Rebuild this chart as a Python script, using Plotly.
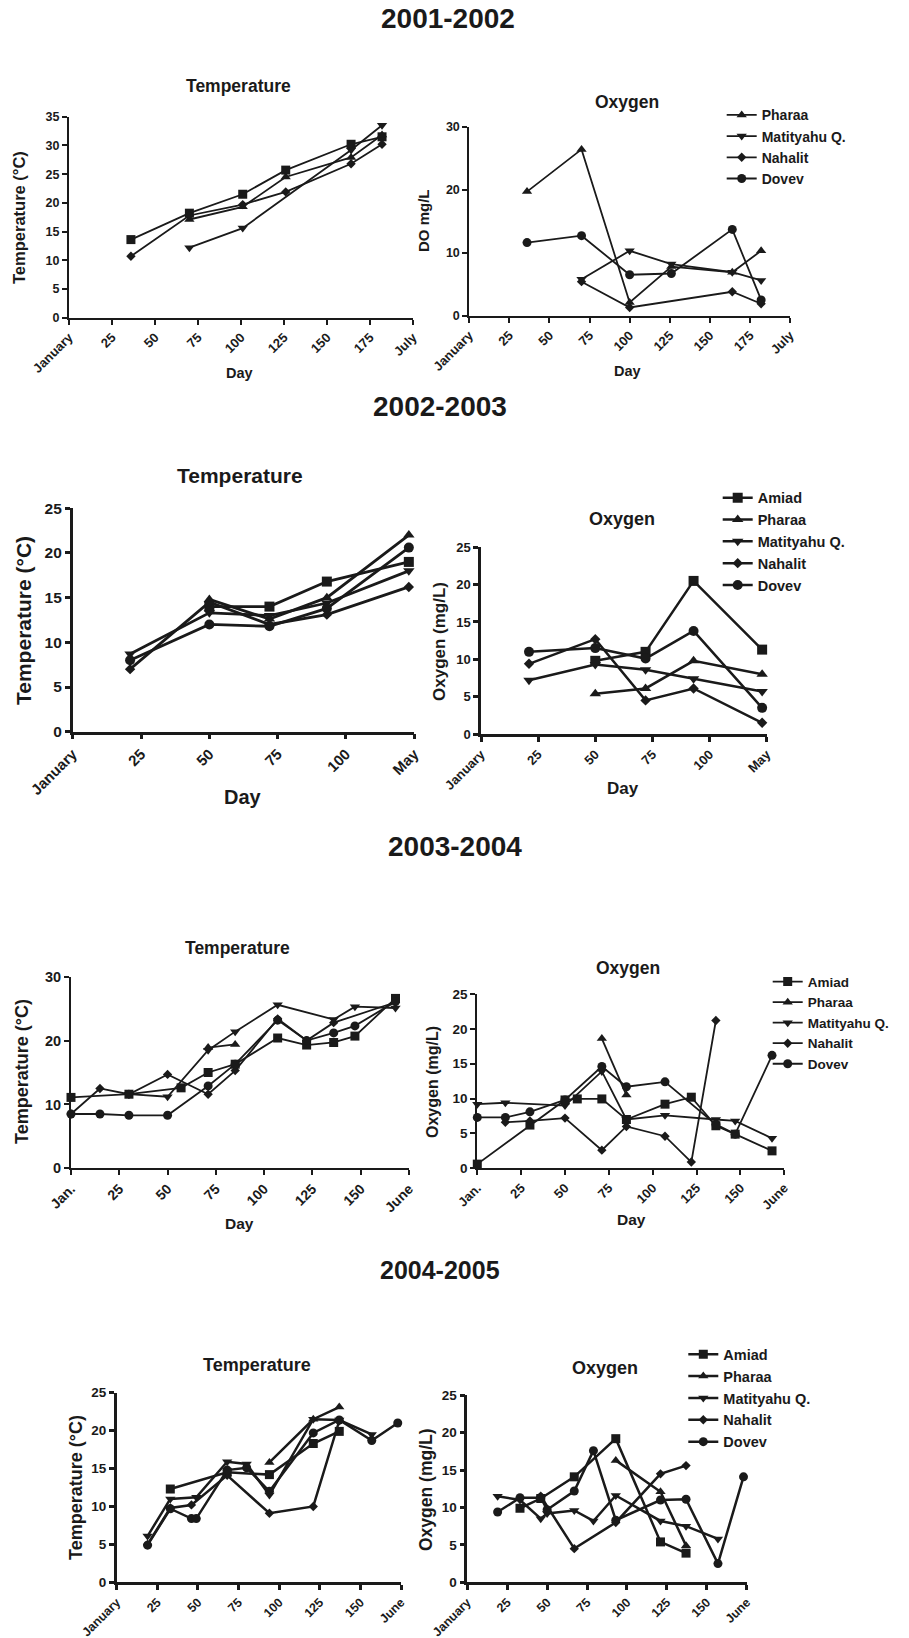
import plotly.graph_objects as go

W, H = 909, 1638

# ---------------- DATA ----------------
# 2001-2002 temperature
p1_sq_x = [36, 70, 101, 126, 164, 182]
p1_sq_y = [13.6, 18.2, 21.5, 25.7, 30.2, 31.5]
p1_tri_x = [70, 101, 126, 164, 182]
p1_tri_y = [17.1, 19.3, 24.5, 27.9, 31.8]
p1_dn_x = [70, 101, 164, 182]
p1_dn_y = [12.2, 15.6, 29.2, 33.5]
p1_dia_x = [36, 70, 101, 126, 164, 182]
p1_dia_y = [10.7, 17.8, 19.7, 21.9, 26.8, 30.2]

# 2001-2002 oxygen
p2_pharaa_x = [36, 70, 100, 126, 164, 182]
p2_pharaa_y = [19.7, 26.4, 2.1, 7.8, 6.9, 10.3]
p2_matit_x = [70, 100, 126, 164, 182]
p2_matit_y = [5.8, 10.3, 8.2, 6.9, 5.6]
p2_nahal_x = [70, 100, 164, 182]
p2_nahal_y = [5.4, 1.3, 3.8, 1.9]
p2_dovev_x = [36, 70, 100, 126, 164, 182]
p2_dovev_y = [11.6, 12.7, 6.5, 6.7, 13.7, 2.5]

# 2002-2003 temperature
p3_amiad_x = [50, 72, 93, 123]
p3_amiad_y = [14.0, 14.0, 16.8, 19.0]
p3_pharaa_x = [50, 72, 93, 123]
p3_pharaa_y = [14.8, 12.6, 15.0, 22.0]
p3_matit_x = [21, 50, 72, 93, 123]
p3_matit_y = [8.7, 13.3, 13.0, 14.4, 18.0]
p3_nahal_x = [21, 50, 72, 93, 123]
p3_nahal_y = [7.0, 14.5, 12.0, 13.1, 16.2]
p3_dovev_x = [21, 50, 72, 93, 123]
p3_dovev_y = [8.0, 12.0, 11.8, 13.8, 20.6]

# 2002-2003 oxygen
p4_amiad_x = [50, 72, 93, 123]
p4_amiad_y = [9.8, 11.0, 20.5, 11.3]
p4_pharaa_x = [50, 72, 93, 123]
p4_pharaa_y = [5.4, 6.1, 9.8, 8.0]
p4_matit_x = [21, 50, 72, 93, 123]
p4_matit_y = [7.2, 9.3, 8.6, 7.4, 5.7]
p4_nahal_x = [21, 50, 72, 93, 123]
p4_nahal_y = [9.4, 12.7, 4.5, 6.1, 1.5]
p4_dovev_x = [21, 50, 72, 93, 123]
p4_dovev_y = [11.0, 11.5, 10.1, 13.8, 3.5]

# 2003-2004 temperature
p5_amiad_x = [0, 30, 57, 71, 85, 107, 122, 136, 147, 168]
p5_amiad_y = [11.1, 11.6, 12.6, 15.0, 16.3, 20.4, 19.3, 19.7, 20.7, 26.6]
p5_pharaa_x = [71, 85]
p5_pharaa_y = [18.9, 19.4]
p5_matit_x = [30, 50, 71, 85, 107, 136, 147, 168]
p5_matit_y = [11.6, 11.2, 18.5, 21.4, 25.6, 23.3, 25.3, 25.1]
p5_nahal_x = [0, 15, 30, 50, 71, 85, 107, 122, 136, 168]
p5_nahal_y = [8.5, 12.5, 11.6, 14.7, 11.6, 15.3, 23.4, 20.0, 22.8, 26.0]
p5_dovev_x = [0, 15, 30, 50, 71, 85, 107, 122, 136, 147, 168]
p5_dovev_y = [8.5, 8.5, 8.3, 8.3, 12.9, 16.3, 23.2, 20.0, 21.2, 22.3, 26.1]

# 2003-2004 oxygen
p6_amiad_x = [0, 30, 50, 57, 71, 85, 107, 122, 136, 147, 168]
p6_amiad_y = [0.6, 6.2, 9.8, 9.95, 9.95, 7.0, 9.2, 10.2, 6.1, 4.9, 2.5]
p6_pharaa_x = [71, 85]
p6_pharaa_y = [18.6, 10.5]
p6_matit_x = [0, 16, 50, 71, 85, 107, 136, 147, 168]
p6_matit_y = [9.2, 9.4, 9.0, 13.9, 7.0, 7.6, 7.0, 6.8, 4.3]
p6_nahal_x = [16, 30, 50, 71, 85, 107, 122, 136]
p6_nahal_y = [6.6, 6.8, 7.2, 2.6, 6.0, 4.6, 0.9, 21.2]
p6_dovev_x = [0, 16, 30, 50, 71, 85, 107, 136, 147, 168]
p6_dovev_y = [7.3, 7.3, 8.1, 9.8, 14.6, 11.7, 12.4, 6.3, 4.9, 16.2]

# 2004-2005 temperature
p7_amiad_x = [33, 68, 94, 121, 137]
p7_amiad_y = [12.3, 14.5, 14.2, 18.3, 19.9]
p7_pharaa_x = [94, 121, 137]
p7_pharaa_y = [15.8, 21.5, 23.1]
p7_matit_x = [19, 33, 49, 68, 80, 94, 121, 137, 157]
p7_matit_y = [6.1, 11.0, 11.2, 15.9, 15.6, 11.5, 21.5, 21.4, 19.5]
p7_nahal_x = [19, 33, 46, 68, 94, 121, 137]
p7_nahal_y = [5.0, 9.8, 10.2, 14.1, 9.1, 10.0, 21.3]
p7_dovev_x = [19, 33, 46, 49, 68, 80, 94, 121, 137, 157, 173]
p7_dovev_y = [4.9, 9.7, 8.4, 8.4, 14.8, 15.1, 12.0, 19.7, 21.4, 18.7, 21.0]

# 2004-2005 oxygen
p8_amiad_x = [33, 46, 67, 93, 121, 137]
p8_amiad_y = [9.9, 11.2, 14.1, 19.2, 5.4, 3.9]
p8_pharaa_x = [93, 121, 137]
p8_pharaa_y = [16.3, 12.1, 4.9]
p8_matit_x = [19, 33, 46, 50, 67, 79, 93, 121, 137, 157]
p8_matit_y = [11.5, 11.0, 8.5, 9.2, 9.6, 8.2, 11.6, 8.2, 7.5, 5.8]
p8_nahal_x = [46, 67, 93, 121, 137]
p8_nahal_y = [11.5, 4.5, 8.0, 14.5, 15.6]
p8_dovev_x = [19, 33, 46, 50, 67, 79, 93, 121, 137, 157, 173]
p8_dovev_y = [9.4, 11.3, 11.3, 9.7, 12.2, 17.6, 8.3, 11.0, 11.1, 2.5, 14.1]

# tick labels
ticks_200 = [0, 25, 50, 75, 100, 125, 150, 175, 200]
labels_july = ["January", "25", "50", "75", "100", "125", "150", "175", "July"]
ticks_125 = [0, 25, 50, 75, 100, 125]
labels_may = ["January", "25", "50", "75", "100", "May"]
ticks_175 = [0, 25, 50, 75, 100, 125, 150, 175]
labels_june_short = ["Jan.", "25", "50", "75", "100", "125", "150", "June"]
labels_june = ["January", "25", "50", "75", "100", "125", "150", "June"]

headers = ["2001-2002", "2002-2003", "2003-2004", "2004-2005"]

# ---------------- LAYOUT HELPERS ----------------
FONT = "Arial, Liberation Sans, Helvetica, sans-serif"
BLACK = "#1a1a1a"

fig = go.Figure()

def px_x(v):
    return v / W

def px_y(v):
    return 1 - v / H

panels = [
    dict(box=(69, 413, 116.7, 317.7), xr=200, yr=35, yt=list(range(0, 36, 5)), xt=ticks_200, xl=labels_july, tf=13, ytf=12.5, lw=1.8, ms=9, al=2),
    dict(box=(469.3, 790, 126.7, 315.7), xr=200, yr=30, yt=[0, 10, 20, 30], xt=ticks_200, xl=labels_july, tf=13, ytf=12.5, lw=1.8, ms=9, al=2),
    dict(box=(72.7, 414.3, 508.3, 731.7), xr=125, yr=25, yt=list(range(0, 26, 5)), xt=ticks_125, xl=labels_may, tf=15, ytf=15.5, lw=2.8, ms=10, al=2.5),
    dict(box=(481, 766.7, 547.3, 734), xr=125, yr=25, yt=list(range(0, 26, 5)), xt=ticks_125, xl=labels_may, tf=13, ytf=13, lw=2.5, ms=10, al=2.5),
    dict(box=(71, 409, 976.7, 1168.3), xr=175, yr=30, yt=[0, 10, 20, 30], xt=ticks_175, xl=labels_june_short, tf=14, ytf=14.5, lw=1.8, ms=9, al=2),
    dict(box=(477.3, 784.3, 994, 1168.3), xr=175, yr=25, yt=list(range(0, 26, 5)), xt=ticks_175, xl=labels_june_short, tf=13, ytf=13.5, lw=1.8, ms=9, al=2),
    dict(box=(116.7, 401, 1392.7, 1582.3), xr=175, yr=25, yt=list(range(0, 26, 5)), xt=ticks_175, xl=labels_june, tf=12.5, ytf=13.5, lw=2.5, ms=9, al=2.5),
    dict(box=(467.3, 746.7, 1395.3, 1582.3), xr=175, yr=25, yt=list(range(0, 26, 5)), xt=ticks_175, xl=labels_june, tf=12.5, ytf=13.5, lw=2.5, ms=9, al=2.5),
]

layout_axes = {}
for i, p in enumerate(panels, start=1):
    x0, x1, yt, yb = p["box"]
    common = dict(showgrid=False, zeroline=False, showline=True, linecolor=BLACK,
                  linewidth=p["al"], ticks="outside", ticklen=5, tickwidth=p["al"],
                  tickcolor=BLACK, mirror=False, fixedrange=True)
    sfx = "" if i == 1 else str(i)
    layout_axes["xaxis" + sfx] = dict(common, domain=[px_x(x0), px_x(x1)], anchor="y" + sfx,
                                     range=[0, p["xr"]], tickmode="array", tickvals=p["xt"],
                                     ticktext=p["xl"], tickangle=-45,
                                     tickfont=dict(family=FONT, size=p["tf"], color=BLACK, weight="bold"))
    layout_axes["yaxis" + sfx] = dict(common, domain=[px_y(yb), px_y(yt)], anchor="x" + sfx,
                                     range=[0, p["yr"]], tickmode="array", tickvals=p["yt"],
                                     ticktext=[str(v) for v in p["yt"]],
                                     tickfont=dict(family=FONT, size=p["ytf"], color=BLACK, weight="bold"))

SYM = {"sq": "square", "tri": "triangle-up", "dn": "triangle-down", "dia": "diamond", "circ": "circle"}

def add(panel, name, xs, ys, sym, legend=None):
    p = panels[panel - 1]
    sfx = "" if panel == 1 else str(panel)
    ms = p["ms"] * (0.8 if sym == "dia" else 1.0)
    fig.add_trace(go.Scatter(
        x=xs, y=ys, name=name, mode="lines+markers",
        xaxis="x" + sfx, yaxis="y" + sfx, cliponaxis=False,
        line=dict(color=BLACK, width=p["lw"]),
        marker=dict(symbol=SYM[sym], size=ms, color=BLACK),
        showlegend=legend is not None,
        legend=legend if legend else "legend",
        legendgroup=f"{panel}-{name}",
    ))

# panel 1
add(1, "Dovev", p1_sq_x, p1_sq_y, "sq")
add(1, "Pharaa", p1_tri_x, p1_tri_y, "tri")
add(1, "Matityahu Q.", p1_dn_x, p1_dn_y, "dn")
add(1, "Nahalit", p1_dia_x, p1_dia_y, "dia")
# panel 2
add(2, "Pharaa", p2_pharaa_x, p2_pharaa_y, "tri", "legend")
add(2, "Matityahu Q.", p2_matit_x, p2_matit_y, "dn", "legend")
add(2, "Nahalit", p2_nahal_x, p2_nahal_y, "dia", "legend")
add(2, "Dovev", p2_dovev_x, p2_dovev_y, "circ", "legend")
# panel 3
add(3, "Amiad", p3_amiad_x, p3_amiad_y, "sq")
add(3, "Pharaa", p3_pharaa_x, p3_pharaa_y, "tri")
add(3, "Matityahu Q.", p3_matit_x, p3_matit_y, "dn")
add(3, "Nahalit", p3_nahal_x, p3_nahal_y, "dia")
add(3, "Dovev", p3_dovev_x, p3_dovev_y, "circ")
# panel 4
add(4, "Amiad", p4_amiad_x, p4_amiad_y, "sq", "legend2")
add(4, "Pharaa", p4_pharaa_x, p4_pharaa_y, "tri", "legend2")
add(4, "Matityahu Q.", p4_matit_x, p4_matit_y, "dn", "legend2")
add(4, "Nahalit", p4_nahal_x, p4_nahal_y, "dia", "legend2")
add(4, "Dovev", p4_dovev_x, p4_dovev_y, "circ", "legend2")
# panel 5
add(5, "Amiad", p5_amiad_x, p5_amiad_y, "sq")
add(5, "Pharaa", p5_pharaa_x, p5_pharaa_y, "tri")
add(5, "Matityahu Q.", p5_matit_x, p5_matit_y, "dn")
add(5, "Nahalit", p5_nahal_x, p5_nahal_y, "dia")
add(5, "Dovev", p5_dovev_x, p5_dovev_y, "circ")
# panel 6
add(6, "Amiad", p6_amiad_x, p6_amiad_y, "sq", "legend3")
add(6, "Pharaa", p6_pharaa_x, p6_pharaa_y, "tri", "legend3")
add(6, "Matityahu Q.", p6_matit_x, p6_matit_y, "dn", "legend3")
add(6, "Nahalit", p6_nahal_x, p6_nahal_y, "dia", "legend3")
add(6, "Dovev", p6_dovev_x, p6_dovev_y, "circ", "legend3")
# panel 7
add(7, "Amiad", p7_amiad_x, p7_amiad_y, "sq")
add(7, "Pharaa", p7_pharaa_x, p7_pharaa_y, "tri")
add(7, "Matityahu Q.", p7_matit_x, p7_matit_y, "dn")
add(7, "Nahalit", p7_nahal_x, p7_nahal_y, "dia")
add(7, "Dovev", p7_dovev_x, p7_dovev_y, "circ")
# panel 8
add(8, "Amiad", p8_amiad_x, p8_amiad_y, "sq", "legend4")
add(8, "Pharaa", p8_pharaa_x, p8_pharaa_y, "tri", "legend4")
add(8, "Matityahu Q.", p8_matit_x, p8_matit_y, "dn", "legend4")
add(8, "Nahalit", p8_nahal_x, p8_nahal_y, "dia", "legend4")
add(8, "Dovev", p8_dovev_x, p8_dovev_y, "circ", "legend4")

def legend_cfg(xpx, first_row_px, size):
    return dict(x=px_x(xpx), y=px_y(first_row_px - 16), xanchor="left", yanchor="top",
                bgcolor="rgba(0,0,0,0)", borderwidth=0, traceorder="grouped",
                tracegroupgap=0,
                font=dict(family=FONT, size=size, color=BLACK, weight="bold"))

annotations = []

def text(x, y, s, size, angle=0):
    annotations.append(dict(x=px_x(x), y=px_y(y), xref="paper", yref="paper",
                            text=s, showarrow=False, textangle=angle,
                            xanchor="center", yanchor="middle",
                            font=dict(family=FONT, size=size, color=BLACK, weight="bold")))

# headers
text(448, 19, headers[0], 28)
text(440, 406, headers[1], 28)
text(455, 846, headers[2], 28)
text(440, 1270, headers[3], 25)

# subplot titles
text(238, 86, "Temperature", 17.5)
text(627, 102, "Oxygen", 17.5)
text(240, 475, "Temperature", 21)
text(622, 519, "Oxygen", 18)
text(237, 948, "Temperature", 17.5)
text(628, 968, "Oxygen", 17.5)
text(257, 1365, "Temperature", 18)
text(605, 1368, "Oxygen", 18)

# y titles
text(19, 218, "Temperature (°C)", 16.5, -90)
text(424, 221, "DO mg/L", 15, -90)
text(23, 621, "Temperature (°C)", 21, -90)
text(440, 642, "Oxygen (mg/L)", 17, -90)
text(22, 1072, "Temperature (°C)", 18, -90)
text(432, 1082, "Oxygen (mg/L)", 16, -90)
text(76, 1488, "Temperature (°C)", 18, -90)
text(426, 1490, "Oxygen (mg/L)", 17.5, -90)

# x titles
text(239, 373, "Day", 14.5)
text(627, 371, "Day", 14.5)
text(243, 797, "Day", 20)
text(623, 788, "Day", 17)
text(239, 1223, "Day", 15.5)
text(631, 1219, "Day", 15.5)

fig.update_layout(
    width=W, height=H, margin=dict(l=0, r=0, t=0, b=0, autoexpand=False),
    paper_bgcolor="white", plot_bgcolor="white",
    font=dict(family=FONT, color=BLACK),
    hovermode=False,
    legend=legend_cfg(721.7, 115.3, 14),
    legend2=legend_cfg(717.7, 497.7, 14.5),
    legend3=legend_cfg(767.7, 982.3, 13.5),
    legend4=legend_cfg(683.3, 1354.3, 14.5),
    annotations=annotations,
    **layout_axes,
)

# the page's default 8px body margin would shift the figure; remove it
fig.write_html(
    "out.html",
    config={"displayModeBar": False, "staticPlot": False},
    post_script="document.body.style.margin='0px';document.body.style.overflow='hidden';",
)
